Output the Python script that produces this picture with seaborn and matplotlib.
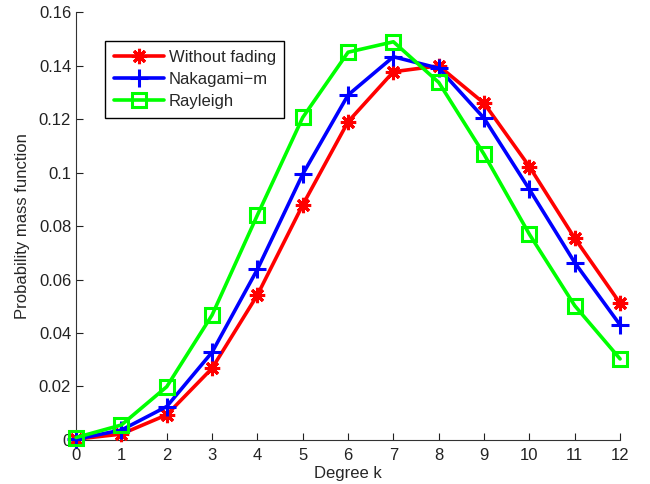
import matplotlib
matplotlib.use("Agg")
import matplotlib.pyplot as plt
import seaborn as sns
from matplotlib.ticker import FuncFormatter

degree_k = list(range(13))
without_fading = [0.0003, 0.0022, 0.0094, 0.0268, 0.0542, 0.0879, 0.1190,
                  0.1377, 0.1399, 0.1259, 0.1022, 0.0754, 0.0511]
nakagami_m = [0.0003, 0.0037, 0.0125, 0.0328, 0.0638, 0.0994, 0.1290,
              0.1433, 0.1390, 0.1203, 0.0937, 0.0663, 0.0430]
rayleigh = [0.0009, 0.0056, 0.0199, 0.0467, 0.0841, 0.1206, 0.1450,
            0.1489, 0.1337, 0.1068, 0.0769, 0.0502, 0.0303]
series_names = ["Without fading", "Nakagami\u2212m", "Rayleigh"]
x_ticks = list(range(13))
y_ticks = [0, 0.02, 0.04, 0.06, 0.08, 0.10, 0.12, 0.14, 0.16]

sns.set_style("ticks")
plt.rcParams['font.family'] = ['Liberation Sans', 'DejaVu Sans']
plt.rcParams['font.size'] = 12

fig = plt.figure(figsize=(6.5, 4.84), dpi=100)
ax = fig.add_axes([0.117, 0.091, 0.837, 0.884])

styles = [
    (without_fading, "#ff0000", (8, 2, 0), 11),
    (nakagami_m, "#0000ff", "+", 13),
    (rayleigh, "#00ff00", "s", 10),
]
handles = []
for (vals, col, mk, ms), name in zip(styles, series_names):
    sns.lineplot(x=degree_k, y=vals, ax=ax, color=col, marker=mk,
                 markersize=ms, markeredgecolor=col, markerfacecolor='none',
                 markeredgewidth=2.2, linewidth=2.6, clip_on=False,
                 zorder=3, label=name, legend=False)
    handles.append(ax.lines[-1])

ax.set_xlim(0, 12)
ax.set_ylim(0, 0.16)
ax.set_xticks(x_ticks)
ax.set_yticks(y_ticks)
ax.yaxis.set_major_formatter(FuncFormatter(lambda v, p: "%g" % round(v, 4)))
ax.tick_params(direction='in', length=5, width=0.8, labelsize=12,
               colors='#222222')
ax.tick_params(axis='x', pad=6)
for s in ['top', 'right']:
    ax.spines[s].set_visible(False)
for s in ['left', 'bottom']:
    ax.spines[s].set_linewidth(0.8)
    ax.spines[s].set_color('#333333')

ax.set_xlabel("Degree k", fontsize=12, labelpad=2)
ax.set_ylabel("Probability mass function", fontsize=12, labelpad=6)

leg = ax.legend(handles, series_names, loc='upper left',
                bbox_to_anchor=(0.053, 0.932), numpoints=1, handlelength=3.0,
                fontsize=12, frameon=True, fancybox=False, framealpha=1,
                edgecolor='black', borderpad=0.52, labelspacing=0.42,
                handletextpad=0.3, borderaxespad=0)
leg.get_frame().set_linewidth(1.0)

fig.savefig("out.png", dpi=100)
